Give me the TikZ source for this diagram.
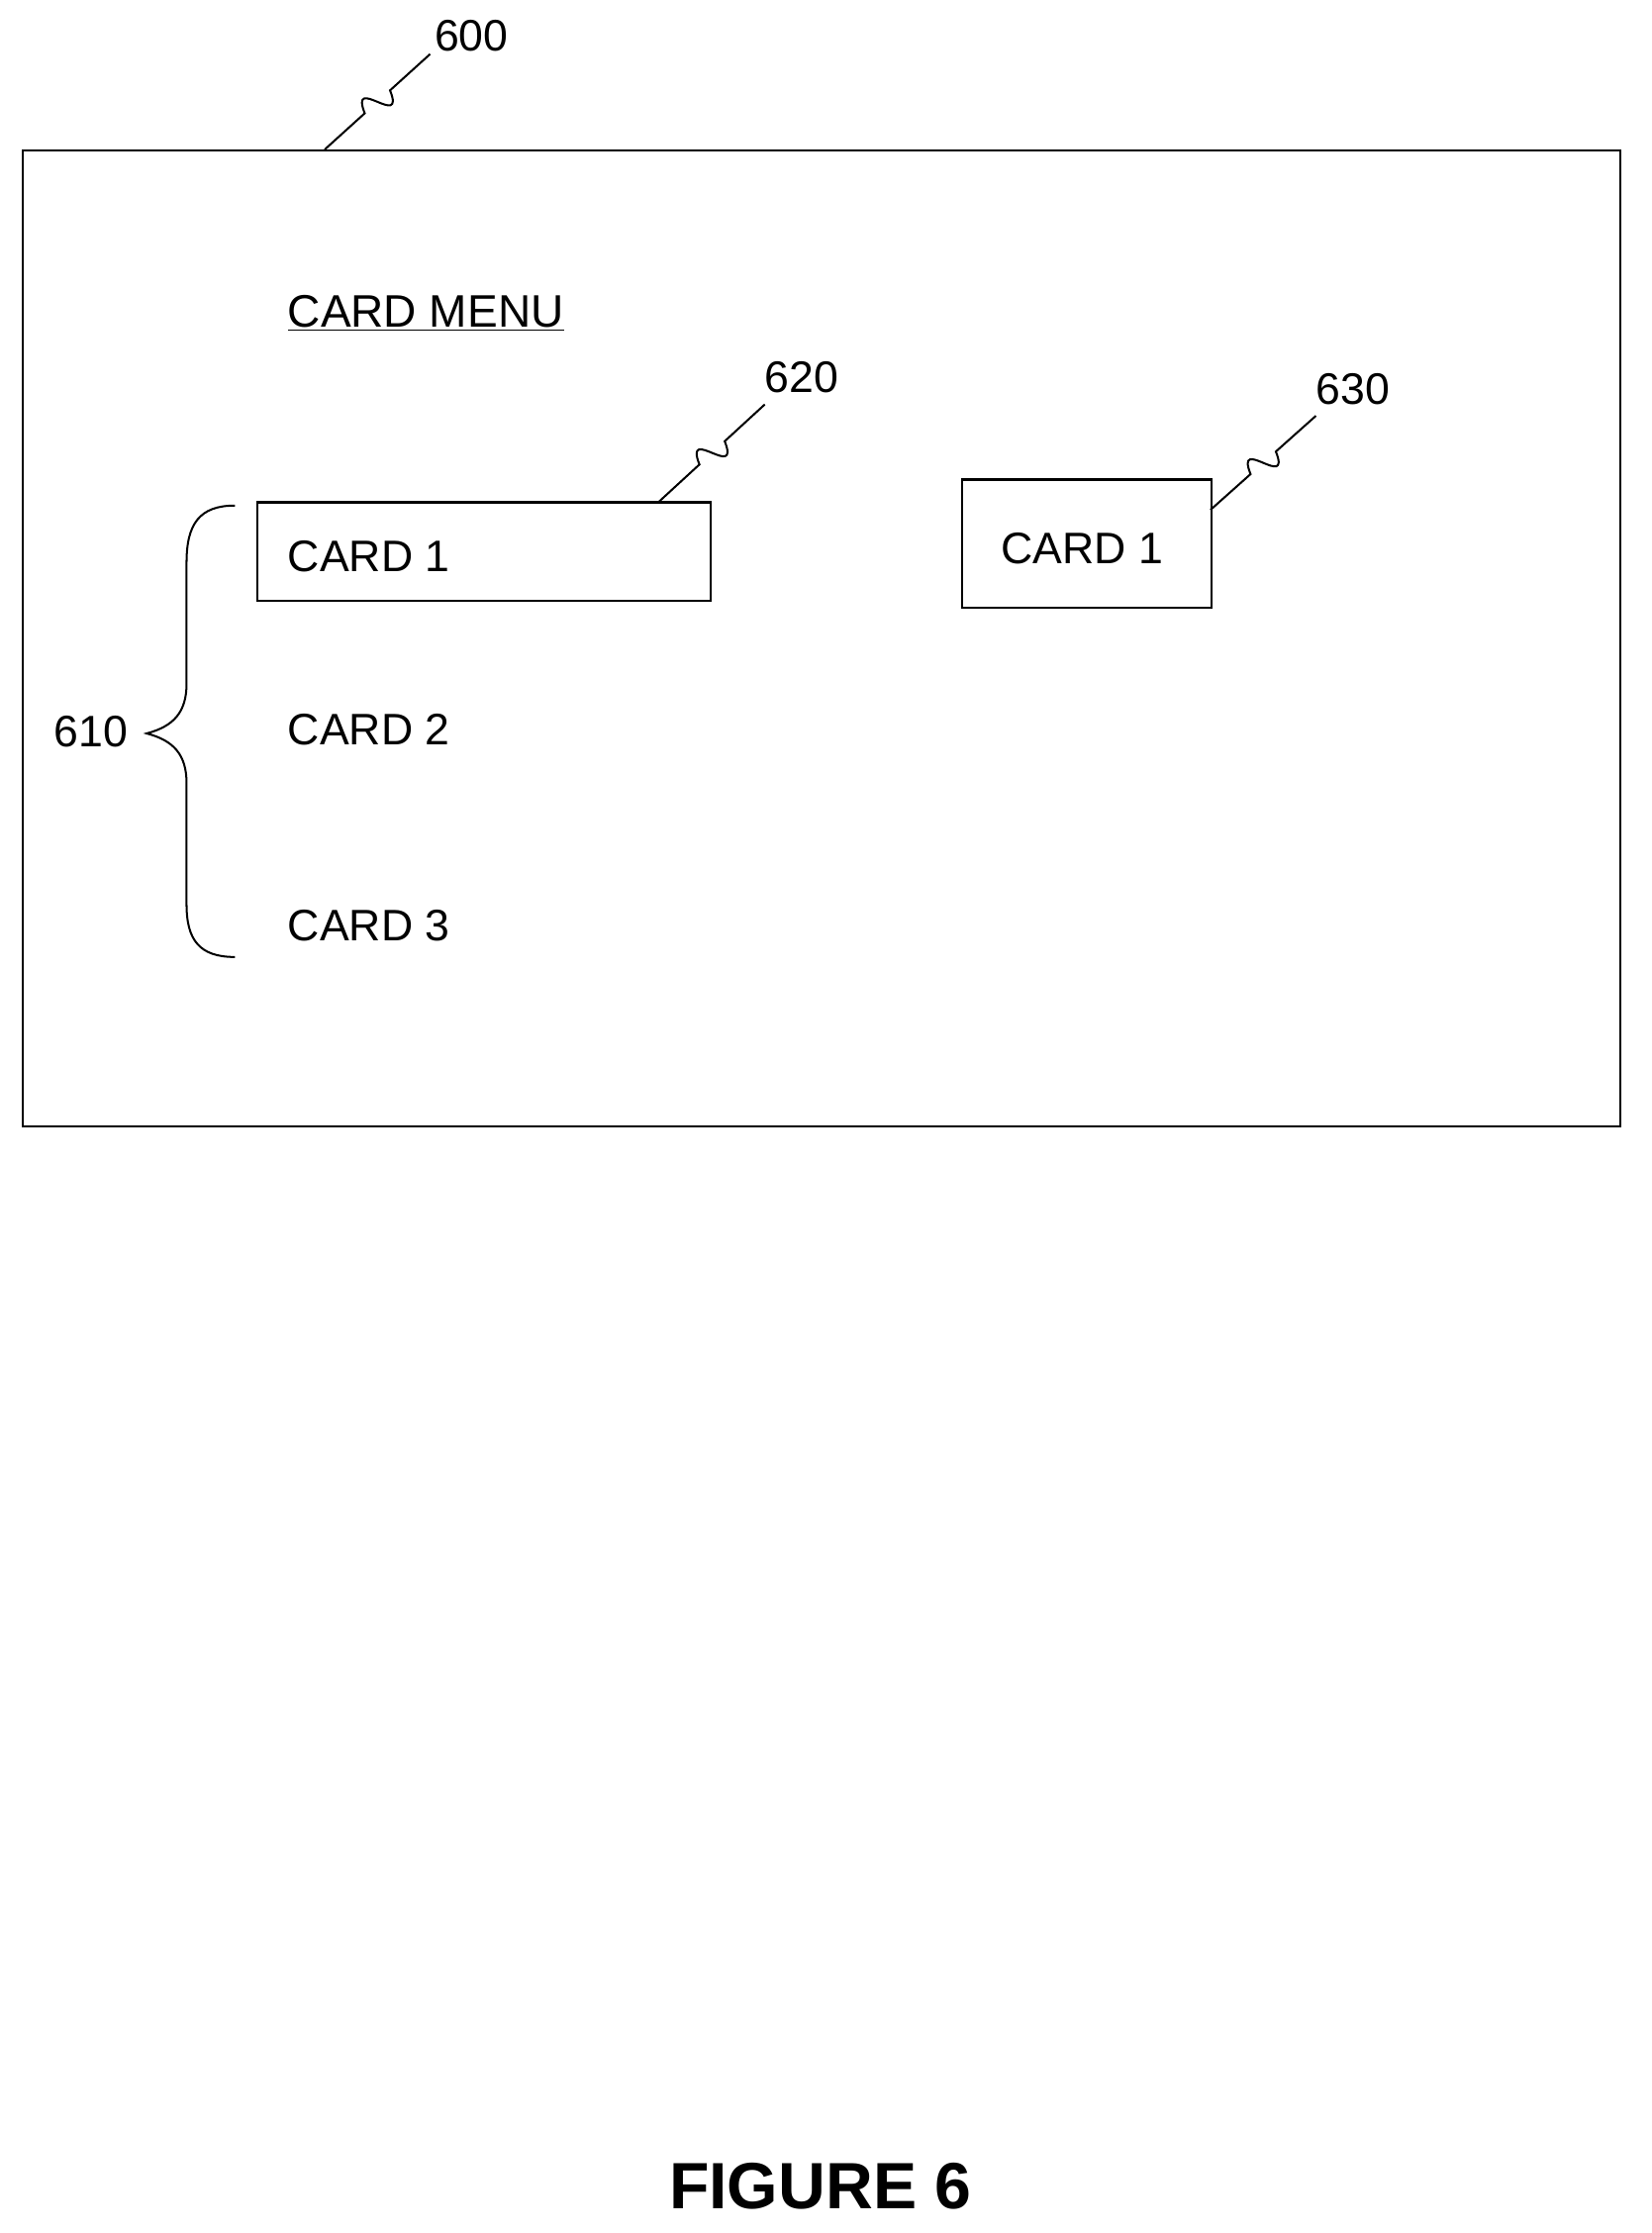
\documentclass[tikz,border=0pt]{standalone}
\usepackage{fontspec}
\setmainfont{Liberation Sans}
\usetikzlibrary{calc}
\begin{document}
\begin{tikzpicture}[x=1pt,y=-1pt,
  txt/.style={font=\fontsize{31}{34}\selectfont, inner sep=0pt},
  box/.style={draw, line width=1.5pt, inner sep=0pt},
  lead/.style={line width=1.4pt}]
\useasboundingbox (0,0) rectangle (1160,1568);
\newcommand\leadr[2]{\draw[lead] (#1) -- ($(#1)!0.38!(#2)$) .. controls ($(#1)!0.5!(#2)+(-20,-20)$) and ($(#1)!0.5!(#2)+(20,20)$) .. ($(#1)!0.62!(#2)$) -- (#2);}
% outer frame
\node[box, minimum width=1122pt, minimum height=685pt, anchor=north west] (frame) at (15,105) {};
\node[txt] (l600) at (331,25) {600};
\coordinate (a600) at (228,105);
\coordinate (b600) at (302,38);
\leadr{a600}{b600}
\node[txt, font=\fontsize{32}{34}\selectfont] (menu) at (299,220) {\underline{CARD MENU}};
% box 620
\node[box, minimum width=318pt, minimum height=69pt, anchor=north west] (c620) at (180,352) {};
\node[txt, anchor=west] (card1a) at (202,391) {CARD 1};
\node[txt] (l620) at (563,265) {620};
\coordinate (a620) at (463,352);
\coordinate (b620) at (537,284);
\leadr{a620}{b620}
% box 630
\node[box, minimum width=175pt, minimum height=90pt, anchor=north west] (c630) at (675,336) {};
\node[txt] (card1b) at (760,385) {CARD 1};
\node[txt] (l630) at (950,273) {630};
\coordinate (a630) at (850,358);
\coordinate (b630) at (924,292);
\leadr{a630}{b630}
% list
\node[txt, anchor=west] (card2) at (202,512) {CARD 2};
\node[txt, anchor=west] (card3) at (202,650) {CARD 3};
\node[txt] (l610) at (64,514) {610};
\coordinate (bt) at (165,355);
\coordinate (bb) at (165,672);
\coordinate (tip) at (103,515);
\draw[lead] (bt) .. controls (140,355) and (131,368) .. (131,395) -- (131,480)
  .. controls (131,500) and (122,510) .. (tip)
  .. controls (122,520) and (131,530) .. (131,550) -- (131,635)
  .. controls (131,660) and (140,672) .. (bb);
\node[txt, font=\bfseries\fontsize{46}{50}\selectfont] (fig) at (576,1535) {FIGURE 6};
\end{tikzpicture}
\end{document}
